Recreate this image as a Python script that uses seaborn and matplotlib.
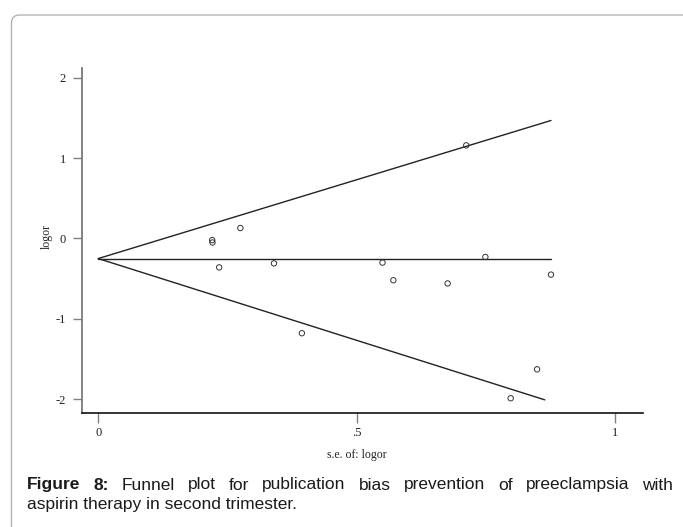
import numpy as np
import pandas as pd
import seaborn as sns
import matplotlib.pyplot as plt
from matplotlib.patches import FancyBboxPatch

# ---- data ----
se = [0.2205, 0.221, 0.275, 0.234, 0.340, 0.394, 0.712, 0.550, 0.749, 0.571, 0.676, 0.876, 0.849, 0.798]
logor = [-0.02, -0.05, 0.13, -0.36, -0.31, -1.18, 1.16, -0.30, -0.23, -0.52, -0.56, -0.45, -1.63, -1.99]

line_se = [0.0, 0.876]
center_line = [-0.25, -0.25]
upper_line = [-0.25, 1.47]
lower_se = [0.0, 0.864]
lower_line = [-0.25, -2.01]

yticks = [-2, -1, 0, 1, 2]
ytick_labels = ["-2", "-1", "0", "1", "2"]
xticks = [0, 0.5, 1]
xtick_labels = ["0", ".5", "1"]

caption_line1 = [("Figure", "bold"), ("8:", "bold"), ("Funnel", "normal"), ("plot", "normal"),
                 ("for", "normal"), ("publication", "normal"), ("bias", "normal"),
                 ("prevention", "normal"), ("of", "normal"), ("preeclampsia", "normal"),
                 ("with", "normal")]
caption_line2 = "aspirin therapy in second trimester."

df = pd.DataFrame({"se": se, "logor": logor})

sns.set_theme(style="white")
plt.rcParams['font.family'] = ['Liberation Serif', 'DejaVu Serif']

W, H = 683, 527
fig = plt.figure(figsize=(W / 100, H / 100), dpi=100)
fig.patch.set_facecolor("white")

# border box (clipped at right and bottom)
box = FancyBboxPatch((11.5, -30), 720, H - 15 + 30, boxstyle="round,pad=0,rounding_size=8",
                     transform=None, fill=False, ec="#b4b4b4", lw=1.0)
fig.add_artist(box)

ax_l, ax_r, ax_t, ax_b = 81.7, 643.0, 67.5, 412.7
ax = fig.add_axes([ax_l / W, 1 - ax_b / H, (ax_r - ax_l) / W, (ax_b - ax_t) / H])
ax.set_facecolor("white")

for xs, ys in [(line_se, center_line), (line_se, upper_line), (lower_se, lower_line)]:
    sns.lineplot(x=xs, y=ys, ax=ax, color="#222222", lw=1.0, estimator=None, sort=False)

sns.scatterplot(data=df, x="se", y="logor", ax=ax, marker="o", s=15,
                facecolor="none", edgecolor="#333333", linewidth=0.7, zorder=3)

ax.set_xlim(-0.032, 1.054)
ax.set_ylim(-2.17, 2.13)
ax.set_xticks(xticks)
ax.set_xticklabels(xtick_labels)
ax.set_yticks(yticks)
ax.set_yticklabels(ytick_labels)

for s in ["top", "right"]:
    ax.spines[s].set_visible(False)
ax.spines["left"].set_color("#7a7a7a")
ax.spines["left"].set_linewidth(1.3)
ax.spines["bottom"].set_color("#111111")
ax.spines["bottom"].set_linewidth(1.2)

ax.tick_params(axis="y", left=True, length=6.2, width=1.0, color="#808080", pad=5,
               labelsize=9, labelcolor="#222222")
ax.tick_params(axis="x", bottom=True, length=7.5, width=1.0, color="#808080", pad=3,
               labelsize=9, labelcolor="#222222")

ax.set_xlabel("s.e. of: logor", fontsize=8.5, color="#222222")
ax.set_ylabel("logor", fontsize=8.5, color="#222222")
ax.xaxis.set_label_coords(0.4905, -0.105)
ax.yaxis.set_label_coords(-0.051, 0.51)

# ---- caption (justified first line) ----
cap_font = ["Liberation Sans", "DejaVu Sans"]
cap_size = 12.5
x0, x1 = 27, 673
base1, base2 = 489.5, 508.5
renderer = fig.canvas.get_renderer()
texts = []
for word, weight in caption_line1:
    t = fig.text(0, 1 - base1 / H, word, family=cap_font, fontsize=cap_size,
                 fontweight=weight, color="#1a1a1a", va="baseline", ha="left")
    texts.append(t)
widths = [t.get_window_extent(renderer).width for t in texts]
gap = (x1 - x0 - sum(widths)) / (len(texts) - 1)
xpos = x0
for t, w in zip(texts, widths):
    t.set_x(xpos / W)
    xpos += w + gap
fig.text(x0 / W, 1 - base2 / H, caption_line2, family=cap_font, fontsize=cap_size,
         color="#1a1a1a", va="baseline", ha="left")

fig.savefig("out.png", dpi=100)
